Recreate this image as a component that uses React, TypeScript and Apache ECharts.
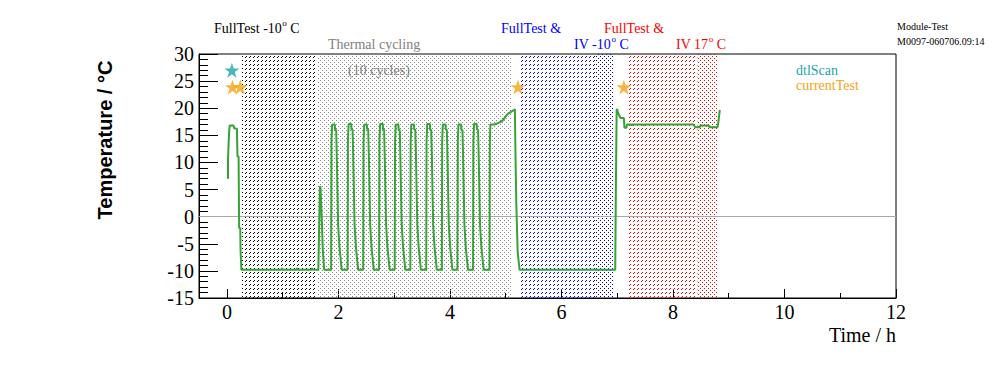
import React, { useEffect, useRef } from 'react';
import * as echarts from 'echarts';

// Temperature trace: [time in hours, temperature in °C]
const tempTrace: [number, number][] = [
  [0.02, 7.0], [0.02, 10.5], [0.03, 13.3], [0.04, 15.5], [0.05, 16.8], [0.12, 16.8], [0.13, 16.3], [0.18, 16.2],
  [0.19, 11.1], [0.21, 11.1], [0.22, -2.1], [0.24, -2.1], [0.245, -6.0], [0.26, -9.8],
  [0.98, -9.8], [0.99, -9.5], [1.0, -9.8], [1.25, -9.8], [1.26, -9.5], [1.27, -9.8], [1.52, -9.8], [1.53, -9.5], [1.54, -9.8], [1.64, -9.8],
  [1.655, -2.0], [1.67, 5.6], [1.68, 5.4], [1.7, 0.0], [1.72, -6.0], [1.745, -9.8],
  // cycle 1
  [1.87, -9.8], [1.876, 13.9], [1.888, 17.0], [1.936, 17.0], [1.94, 16.0], [1.96, 16.0], [1.97, 11.8], [1.995, -1.5], [2.02, -5.7], [2.06, -9.8],
  // cycle 2
  [2.165, -9.8], [2.171, 13.9], [2.183, 17.1], [2.231, 17.1], [2.235, 16.1], [2.255, 16.0], [2.265, 11.5], [2.29, -1.5], [2.315, -5.7], [2.355, -9.8],
  // cycle 3
  [2.445, -9.8], [2.451, 13.9], [2.463, 17.0], [2.511, 17.0], [2.515, 16.2], [2.535, 16.0], [2.545, 11.8], [2.57, -1.5], [2.595, -5.8], [2.635, -9.8],
  // cycle 4
  [2.73, -9.8], [2.736, 14.0], [2.748, 17.1], [2.796, 17.1], [2.8, 16.1], [2.82, 16.0], [2.83, 11.6], [2.855, -1.4], [2.88, -5.7], [2.92, -9.8],
  // cycle 5
  [3.01, -9.8], [3.016, 13.9], [3.028, 17.0], [3.076, 17.0], [3.08, 16.0], [3.1, 16.0], [3.11, 11.8], [3.135, -1.5], [3.16, -5.6], [3.2, -9.8],
  // cycle 6
  [3.29, -9.8], [3.296, 13.8], [3.308, 17.0], [3.356, 17.0], [3.36, 16.1], [3.38, 16.0], [3.39, 11.7], [3.415, -1.5], [3.44, -5.7], [3.48, -9.8],
  // cycle 7
  [3.575, -9.8], [3.581, 13.9], [3.593, 17.1], [3.641, 17.1], [3.645, 16.0], [3.665, 16.0], [3.675, 11.8], [3.7, -1.6], [3.725, -5.7], [3.765, -9.8],
  // cycle 8
  [3.855, -9.8], [3.861, 13.9], [3.873, 17.0], [3.921, 17.0], [3.925, 16.1], [3.945, 16.0], [3.955, 11.8], [3.98, -1.5], [4.005, -5.7], [4.045, -9.8],
  // cycle 9
  [4.135, -9.8], [4.141, 14.0], [4.153, 17.0], [4.201, 17.0], [4.205, 16.0], [4.225, 16.0], [4.235, 11.7], [4.26, -1.5], [4.285, -5.8], [4.325, -9.8],
  // cycle 10
  [4.415, -9.8], [4.421, 13.9], [4.433, 17.1], [4.481, 17.1], [4.485, 16.1], [4.505, 16.0], [4.515, 11.8], [4.54, -1.5], [4.565, -5.7], [4.605, -9.8],
  // warm plateau, then -10 test, then 17 test
  [4.71, -9.8], [4.715, 13.0], [4.725, 17.0], [4.8, 17.0], [4.87, 17.3], [4.93, 17.6], [4.98, 18.2], [5.03, 18.9], [5.11, 19.4], [5.165, 19.8],
  [5.175, 12.0], [5.19, 2.6], [5.215, -6.6], [5.25, -9.8],
  [6.965, -9.8], [6.975, 4.1], [6.99, 19.7], [7.0, 19.8], [7.01, 19.4], [7.03, 18.8], [7.06, 18.2], [7.12, 18.2], [7.13, 16.4], [7.165, 16.4],
  [7.175, 17.0], [7.25, 17.0], [7.26, 16.8], [7.27, 17.0], [7.46, 17.0], [7.47, 16.8], [7.48, 17.0], [8.37, 17.0], [8.4, 16.5], [8.48, 16.5],
  [8.49, 16.8], [8.64, 16.8], [8.66, 16.5], [8.8, 16.5], [8.82, 17.9], [8.84, 19.7],
];

const dtlScanTime = [0.09];
const dtlScanTemp = [27.0];
const currentTestTime = [0.1, 0.24, 5.22, 7.12];
const currentTestTemp = [23.9, 23.9, 23.9, 23.9];

// Test phases (hours)
const phaseStart = [0.27, 1.616, 5.275, 6.617, 7.177, 8.438];
const phaseEnd = [1.616, 5.1, 6.617, 6.937, 8.438, 8.8];
const phaseColor = ['#000000', '#8a8a8a', '#0000ff', '#0000ff', '#ff0000', '#ff0000'];
const phaseKind = ['dense', 'dots', 'dense', 'dots', 'dense', 'dots'];

const xMajorTicks = [0, 2, 4, 6, 8, 10, 12];
const xMinorTicks = [1, 3, 5, 7, 9, 11];

const SERIF = '"Liberation Serif", "Times New Roman", serif';
const SANS = '"Liberation Sans", Arial, sans-serif';

function makePattern(color: string, kind: string) {
  const c = document.createElement('canvas');
  c.width = 4;
  c.height = 4;
  const ctx = c.getContext('2d')!;
  ctx.fillStyle = color;
  if (kind === 'dense') {
    ctx.fillRect(2, 0, 1, 1);
    ctx.fillRect(1, 1, 1, 1);
  } else {
    ctx.fillRect(0, 0, 1, 1);
    ctx.fillRect(2, 2, 1, 1);
  }
  return { image: c, repeat: 'repeat' };
}

const starPath =
  'path://M50,0 L61.2,34.5 L97.6,34.5 L68.2,55.9 L79.4,90.5 L50,69.1 L20.6,90.5 L31.8,55.9 L2.4,34.5 L38.8,34.5 Z';

let measureCtx: CanvasRenderingContext2D | null = null;
function measure(text: string, size: number) {
  if (!measureCtx) measureCtx = document.createElement('canvas').getContext('2d');
  measureCtx!.font = `${size}px "Liberation Serif"`;
  return measureCtx!.measureText(text).width;
}

function txt(x: number, y: number, text: string, color: string, size: number, extra: any = {}) {
  return {
    type: 'text',
    x,
    y,
    silent: true,
    z: 100,
    style: {
      text,
      fill: color,
      fontSize: size,
      fontFamily: SERIF,
      align: 'left',
      verticalAlign: 'middle',
      textAlign: 'left',
      textVerticalAlign: 'middle',
      ...extra,
    },
  };
}

// text with a superscript "o" followed by " C"
function degText(x: number, y: number, before: string, color: string, size: number) {
  const w1 = measure(before, size);
  const wo = measure('o', 9);
  const ws = measure(' ', size);
  return [
    txt(x, y, before, color, size),
    txt(x + w1 + 0.5, y - 5, 'o', color, 9),
    txt(x + w1 + 0.5 + wo + ws, y, 'C', color, size),
  ];
}

export default function App() {
  const ref = useRef<HTMLDivElement>(null);
  useEffect(() => {
    if (!ref.current) return;
    const chart = echarts.init(ref.current, undefined, { renderer: 'svg' });
    const areas = phaseStart.map((s, i) => [
      { xAxis: s, itemStyle: { color: makePattern(phaseColor[i], phaseKind[i]), opacity: 1 } },
      { xAxis: phaseEnd[i] },
    ]);
    const option: any = {
      animation: false,
      backgroundColor: '#ffffff',
      grid: {
        left: 199,
        right: 100,
        top: 54,
        bottom: 74,
        show: true,
        borderColor: '#000',
        borderWidth: 1,
        backgroundColor: 'transparent',
      },
      xAxis: [
        {
          type: 'value',
          min: -0.5,
          max: 12,
          position: 'bottom',
          axisLine: { show: true, onZero: false, lineStyle: { color: '#000', width: 1 } },
          axisTick: { show: true, inside: true, length: 9, customValues: xMajorTicks, lineStyle: { color: '#000' } },
          axisLabel: {
            show: true,
            customValues: xMajorTicks,
            fontFamily: SERIF,
            fontSize: 20,
            color: '#000',
            margin: 4,
          },
          splitLine: { show: false },
        },
        {
          type: 'value',
          min: -0.5,
          max: 12,
          position: 'bottom',
          axisLine: { show: false, onZero: false },
          axisTick: { show: true, inside: true, length: 5, customValues: xMinorTicks, lineStyle: { color: '#000' } },
          axisLabel: { show: false },
          splitLine: { show: false },
        },
      ],
      yAxis: {
        type: 'value',
        min: -15,
        max: 30,
        interval: 5,
        axisLine: { show: true, onZero: false, lineStyle: { color: '#000', width: 1 } },
        axisTick: { show: true, inside: true, length: 19, lineStyle: { color: '#000' } },
        minorTick: { show: true, splitNumber: 5, length: 9, lineStyle: { color: '#000' } },
        axisLabel: { fontFamily: SERIF, fontSize: 20, color: '#000', margin: 5 },
        splitLine: { show: false },
        minorSplitLine: { show: false },
      },
      series: [
        {
          name: 'temperature',
          type: 'line',
          xAxisIndex: 0,
          data: tempTrace,
          showSymbol: false,
          symbol: 'none',
          lineStyle: { color: '#36a336', width: 2 },
          z: 5,
          silent: true,
          markArea: { silent: true, label: { show: false }, data: areas },
          markLine: {
            silent: true,
            symbol: 'none',
            label: { show: false },
            lineStyle: { color: '#a8a8a8', type: 'solid', width: 1 },
            data: [{ yAxis: 0 }],
          },
        },
        {
          name: 'dtlScan',
          type: 'scatter',
          xAxisIndex: 0,
          data: dtlScanTime.map((t, i) => [t, dtlScanTemp[i]]),
          symbol: starPath,
          symbolSize: 15,
          itemStyle: { color: '#1ba5a5' },
          z: 6,
          silent: true,
        },
        {
          name: 'currentTest',
          type: 'scatter',
          xAxisIndex: 0,
          data: currentTestTime.map((t, i) => [t, currentTestTemp[i]]),
          symbol: starPath,
          symbolSize: 15,
          itemStyle: { color: '#f7a20f' },
          z: 6,
          silent: true,
        },
      ],
      graphic: [
        ...degText(214, 28, 'FullTest -10', '#000', 14),
        txt(328, 44, 'Thermal cycling', '#808080', 14),
        txt(348, 70, '(10 cycles)', '#808080', 14),
        txt(501, 28, 'FullTest &', '#0000ff', 14),
        ...degText(574, 44, 'IV -10', '#0000ff', 14),
        txt(604, 28, 'FullTest &', '#ff0000', 14),
        ...degText(676, 44, 'IV 17', '#ff0000', 14),
        txt(897, 26, 'Module-Test', '#000', 10),
        txt(897, 41, 'M0097-060706.09:14', '#000', 10),
        txt(796, 70, 'dtlScan', '#1ba5a5', 14),
        txt(796, 85, 'currentTest', '#f7a20f', 14),
        {
          type: 'text',
          x: 105,
          y: 140,
          rotation: Math.PI / 2,
          silent: true,
          style: {
            text: 'Temperature / °C',
            fill: '#000',
            fontSize: 20,
            fontWeight: 'bold',
            fontFamily: SANS,
            align: 'center',
            verticalAlign: 'middle',
            textAlign: 'center',
            textVerticalAlign: 'middle',
          },
        },
        {
          type: 'text',
          x: 896,
          y: 335,
          silent: true,
          style: {
            text: 'Time / h',
            fill: '#000',
            fontSize: 20,
            fontFamily: SERIF,
            align: 'right',
            verticalAlign: 'middle',
            textAlign: 'right',
            textVerticalAlign: 'middle',
          },
        },
      ],
    };
    chart.setOption(option);
    return () => chart.dispose();
  }, []);
  return (
    <div
      ref={ref}
      style={{ position: 'fixed', left: 0, top: 0, width: 996, height: 372, background: '#fff' }}
    />
  );
}
